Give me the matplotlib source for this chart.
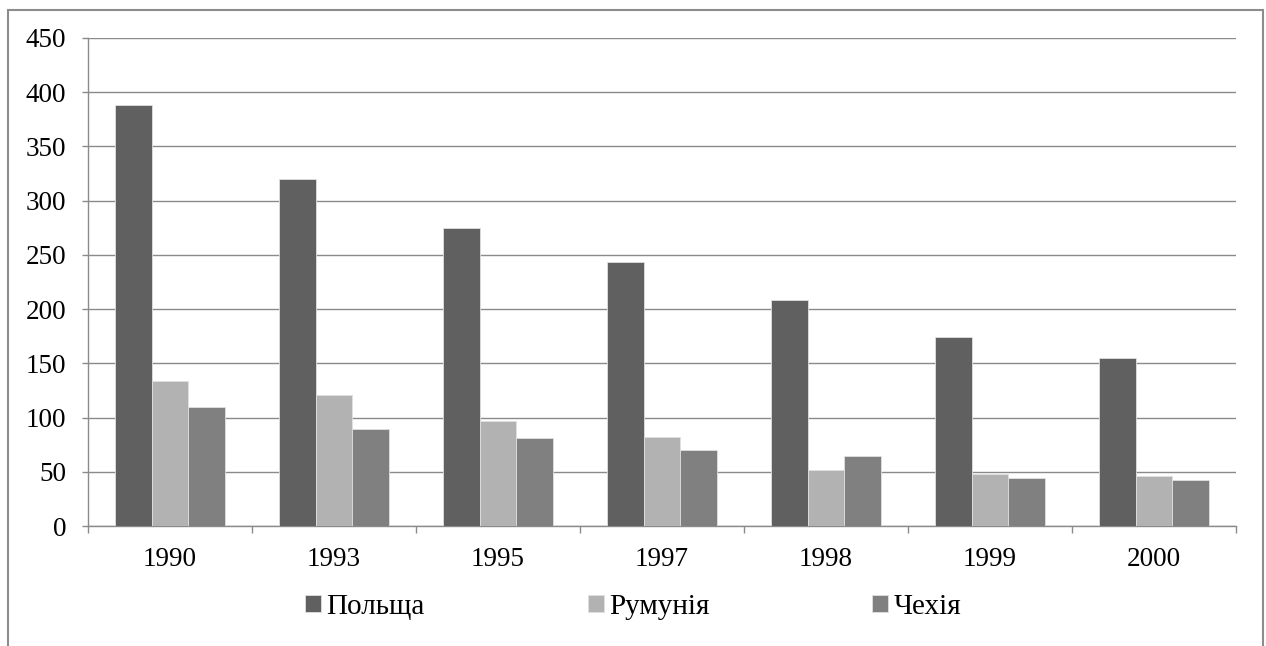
import numpy as np
import matplotlib.pyplot as plt
from matplotlib.patches import Rectangle

years = ['1990', '1993', '1995', '1997', '1998', '1999', '2000']
poland = [388, 320, 275, 243, 208, 174, 155]
romania = [134, 121, 97, 82, 52, 48, 46]
czech = [110, 89, 81, 70, 65, 44, 42]
names = ['Польща', 'Румунія', 'Чехія']
colors = ['#606060', '#b2b2b2', '#808080']

plt.rcParams['font.family'] = ['Liberation Serif', 'DejaVu Serif']

fig = plt.figure(figsize=(12.66, 6.46), dpi=100)
ax = fig.add_axes([88 / 1266, 1 - 526 / 646, 1148 / 1266, 488 / 646])

# outer chart frame
fig.patches.append(Rectangle((8 / 1266, -0.05), 1255 / 1266, 1.05 - 10 / 646,
                             transform=fig.transFigure, fill=False,
                             edgecolor='#8c8c8c', linewidth=1.5))

x = np.arange(len(years))
w = 0.222
for i, (vals, name) in enumerate(zip([poland, romania, czech], names)):
    ax.bar(x + (i - 1) * w, vals, width=w, color=colors[i], edgecolor='#e0e0e0',
           linewidth=0.6, label=name, zorder=3)

ax.set_xlim(-0.5, len(years) - 0.5)
ax.set_ylim(0, 450)
ax.set_yticks(range(0, 451, 50))
ax.yaxis.grid(True, color='#8a8a8a', linewidth=1.0, zorder=0)

ax.set_xticks(x)
ax.set_xticklabels(years)
ax.set_xticks(np.arange(-0.5, len(years)), minor=True)
ax.tick_params(axis='x', which='major', length=0, pad=15, labelsize=19.5)
ax.tick_params(axis='x', which='minor', length=5, color='#8a8a8a', width=1)
ax.tick_params(axis='y', length=4.5, color='#8a8a8a', width=1, pad=11, labelsize=19.5)

for s in ['top', 'right']:
    ax.spines[s].set_visible(False)
for s in ['left', 'bottom']:
    ax.spines[s].set_color('#8a8a8a')
    ax.spines[s].set_linewidth(1)

fig.legend(loc='center', bbox_to_anchor=(633 / 1266, 1 - 607 / 646), ncol=3, frameon=False,
           fontsize=21, handlelength=0.55, handleheight=0.55, handletextpad=0.17,
           columnspacing=5.6)

fig.savefig('out.png', dpi=100)
